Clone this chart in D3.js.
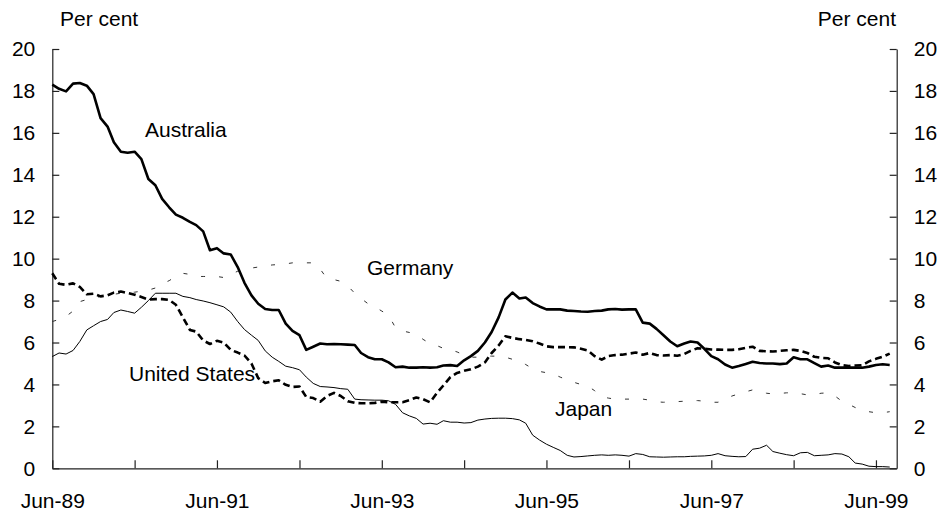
<!DOCTYPE html>
<html>
<head>
<meta charset="utf-8">
<script src="https://cdn.jsdelivr.net/npm/d3@7"></script>
<style>
    body { margin: 0; background: #fff; }
    svg text { font-family: Arial, "Liberation Sans", sans-serif; font-size: 21px; fill: #000; }
    .axis path, .axis line { stroke: #222; stroke-width: 1.2; }
</style>
</head>
<body>
<svg id="chart" width="943" height="515"></svg>
<script>
// monthly observations, Jun-89 .. Aug-99
var startMonth = new Date(1989, 5, 1),
    endMonth = new Date(1999, 8, 1);
var months = d3.timeMonth.range(startMonth, endMonth);

var australia = [
    18.3, 18.1, 17.98, 18.35, 18.38, 18.25, 17.85, 16.7, 16.3, 15.55, 15.1, 15.05,
    15.1, 14.75, 13.8, 13.5, 12.85, 12.45, 12.1, 11.95, 11.75, 11.6, 11.3, 10.4,
    10.5, 10.25, 10.2, 9.6, 8.85, 8.25, 7.85, 7.6, 7.55, 7.55, 6.9, 6.55,
    6.35, 5.65, 5.8, 5.95, 5.92, 5.93, 5.92, 5.9, 5.88, 5.5, 5.3, 5.2,
    5.2, 5.05, 4.82, 4.85, 4.8, 4.8, 4.82, 4.8, 4.82, 4.9, 4.92, 4.88,
    5.15, 5.35, 5.6, 6.0, 6.5, 7.2, 8.05, 8.38, 8.1, 8.15, 7.88, 7.72,
    7.58, 7.58, 7.58, 7.52, 7.5, 7.48, 7.47, 7.5, 7.52, 7.58, 7.6, 7.57,
    7.58, 7.58, 6.95, 6.9, 6.65, 6.35, 6.05, 5.82, 5.95, 6.05, 6.0, 5.7,
    5.35, 5.2, 4.95, 4.8, 4.88, 4.98, 5.08, 5.02, 5.0, 5.0, 4.97, 5.0,
    5.3, 5.2, 5.2, 5.02, 4.85, 4.9, 4.8, 4.8, 4.8, 4.8, 4.8, 4.85,
    4.93, 4.96, 4.93
];

var unitedStates = [
    9.3, 8.8, 8.75, 8.82, 8.65, 8.3, 8.33, 8.2, 8.25, 8.38, 8.43, 8.36,
    8.28, 8.17, 8.05, 8.07, 8.07, 8.03, 7.8, 7.2, 6.6, 6.52, 6.1, 5.93,
    6.08, 6.0, 5.65, 5.52, 5.38, 5.0, 4.3, 4.07, 4.15, 4.2, 3.98, 3.88,
    3.9, 3.4, 3.35, 3.18, 3.45, 3.6, 3.45, 3.2, 3.12, 3.1, 3.1, 3.12,
    3.18, 3.15, 3.15, 3.15, 3.25, 3.38, 3.3, 3.15, 3.6, 3.95, 4.35, 4.55,
    4.65, 4.72, 4.85, 5.05, 5.5, 5.86, 6.3, 6.22, 6.16, 6.12, 6.06, 5.95,
    5.82, 5.78, 5.78, 5.78, 5.77, 5.7, 5.62, 5.35, 5.18, 5.35, 5.4, 5.42,
    5.47, 5.52, 5.42, 5.5, 5.4, 5.38, 5.4, 5.37, 5.45, 5.6, 5.73, 5.7,
    5.67, 5.66, 5.65, 5.65, 5.68, 5.75, 5.8, 5.6, 5.58, 5.57, 5.6, 5.63,
    5.65, 5.6, 5.5, 5.32, 5.27, 5.25, 5.05, 4.92, 4.88, 4.9, 4.92, 5.1,
    5.22, 5.32, 5.47
];

var japan = [
    5.33, 5.5, 5.45, 5.62, 6.05, 6.6, 6.8, 7.0, 7.1, 7.43, 7.55, 7.48,
    7.4, 7.68, 8.0, 8.35, 8.35, 8.35, 8.35, 8.2, 8.14, 8.05, 7.98, 7.9,
    7.8, 7.7, 7.45, 7.0, 6.62, 6.35, 6.1, 5.6, 5.3, 5.1, 4.87, 4.8,
    4.7, 4.35, 4.05, 3.9, 3.88, 3.85, 3.8, 3.77, 3.3, 3.27, 3.26, 3.25,
    3.25, 3.22, 3.05, 2.65, 2.5, 2.38, 2.11, 2.15, 2.1, 2.27, 2.2, 2.2,
    2.16, 2.18, 2.3, 2.35, 2.38, 2.39, 2.39, 2.37, 2.31, 2.15, 1.58, 1.35,
    1.15, 1.0, 0.85, 0.62, 0.54, 0.56, 0.59, 0.62, 0.64, 0.62, 0.64, 0.62,
    0.58, 0.7, 0.66, 0.55, 0.54, 0.53, 0.54, 0.55, 0.55, 0.57, 0.58, 0.59,
    0.62, 0.7, 0.6, 0.57, 0.55, 0.56, 0.91, 0.96, 1.1, 0.8, 0.72, 0.65,
    0.6, 0.74, 0.76, 0.6, 0.62, 0.64, 0.7, 0.68, 0.55, 0.25, 0.2, 0.1,
    0.08, 0.08, 0.06
];

var germany = [
    7.0, 7.1, 7.25, 7.5, 7.95, 8.05, 8.1, 8.2, 8.25, 8.3, 8.35, 8.4,
    8.4, 8.45, 8.5, 8.6, 8.8, 8.95, 9.15, 9.3, 9.25, 9.15, 9.15, 9.15,
    9.15, 9.1, 9.25, 9.4, 9.5, 9.55, 9.6, 9.65, 9.7, 9.72, 9.75, 9.8,
    9.8, 9.8, 9.8, 9.5, 9.05, 9.0, 8.92, 8.7, 8.35, 8.1, 7.85, 7.7,
    7.5, 7.3, 6.7, 6.55, 6.48, 6.4, 6.15, 5.95, 5.85, 5.72, 5.65, 5.55,
    5.4, 5.3, 5.3, 5.35, 5.35, 5.35, 5.3, 5.2, 5.12, 4.95, 4.75, 4.62,
    4.56, 4.5, 4.35, 4.22, 4.1, 4.0, 3.92, 3.7, 3.42, 3.35, 3.3, 3.3,
    3.3, 3.3, 3.3, 3.25, 3.17, 3.15, 3.17, 3.18, 3.2, 3.22, 3.23, 3.2,
    3.15, 3.15, 3.3, 3.45, 3.55, 3.65, 3.74, 3.67, 3.58, 3.55, 3.57, 3.6,
    3.6, 3.56, 3.5, 3.52, 3.58, 3.6, 3.45, 3.2, 3.05, 2.9, 2.78, 2.7,
    2.65, 2.65, 2.7
];

var yTicks = [0, 2, 4, 6, 8, 10, 12, 14, 16, 18, 20];
// a tick every June, labels every second year
var xTickMonths = d3.timeMonth.range(startMonth, endMonth, 12);
var xTickLabels = ["Jun-89", "", "Jun-91", "", "Jun-93", "", "Jun-95", "", "Jun-97", "", "Jun-99"];

var svg = d3.select("#chart");

var x = d3.scaleTime()
    .domain([startMonth, endMonth])
    .range([52.3, 896.7]);

var y = d3.scaleLinear()
    .domain([0, 20])
    .range([468.3, 49]);

// axes, ticks point inwards
svg.append("g")
    .attr("class", "axis")
    .attr("transform", "translate(52.3,0)")
    .call(d3.axisLeft(y).tickValues(yTicks).tickSizeInner(-7).tickSizeOuter(0).tickPadding(17));

svg.append("g")
    .attr("class", "axis")
    .attr("transform", "translate(896.7,0)")
    .call(d3.axisRight(y).tickValues(yTicks).tickSizeInner(-7).tickSizeOuter(0).tickPadding(17));

svg.append("g")
    .attr("class", "axis")
    .attr("transform", "translate(0,468.3)")
    .call(d3.axisBottom(x)
        .tickValues(xTickMonths)
        .tickSizeInner(-8)
        .tickSizeOuter(0)
        .tickPadding(25)
        .tickFormat(function(d, i) { return xTickLabels[i]; }));

svg.selectAll(".axis text").style("font-size", "21px");

var series = [
    { name: "Germany", values: germany, width: 1, dash: "4,14", color: "#333" },
    { name: "Japan", values: japan, width: 1, dash: null, color: "#000" },
    { name: "United States", values: unitedStates, width: 2.6, dash: "7,4", color: "#000" },
    { name: "Australia", values: australia, width: 2.6, dash: null, color: "#000" }
];

var line = d3.line()
    .x(function(d, i) { return x(months[i]); })
    .y(function(d) { return y(d); });

svg.append("g")
    .attr("class", "lines")
    .selectAll("path")
    .data(series)
    .enter().append("path")
    .attr("d", function(d) { return line(d.values); })
    .attr("fill", "none")
    .attr("stroke", function(d) { return d.color; })
    .attr("stroke-width", function(d) { return d.width; })
    .attr("stroke-dasharray", function(d) { return d.dash; })
    .attr("stroke-linejoin", "round");

// series labels
var labels = [
    { text: "Australia", x: 145, y: 137 },
    { text: "Germany", x: 367, y: 275 },
    { text: "United States", x: 129, y: 381 },
    { text: "Japan", x: 555, y: 416 }
];

svg.append("g")
    .selectAll("text")
    .data(labels)
    .enter().append("text")
    .attr("x", function(d) { return d.x; })
    .attr("y", function(d) { return d.y; })
    .text(function(d) { return d.text; });

svg.append("text").attr("x", 60).attr("y", 26).text("Per cent");
svg.append("text").attr("x", 896).attr("y", 26).attr("text-anchor", "end").text("Per cent");
</script>
</body>
</html>
